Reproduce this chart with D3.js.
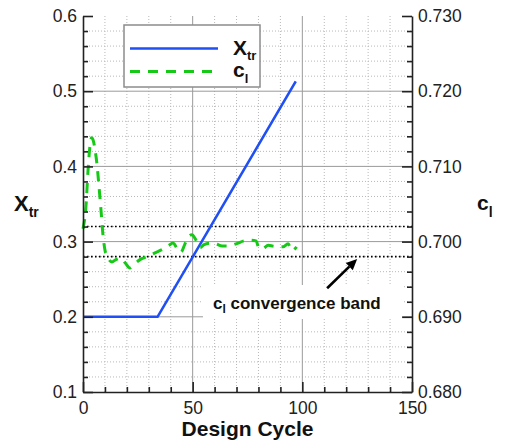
<!DOCTYPE html>
<html>
<head>
<meta charset="utf-8">
<script src="https://cdn.jsdelivr.net/npm/d3@7"></script>
<style>
  html, body { margin: 0; padding: 0; background: #fff; }
  svg { display: block; font-family: "Liberation Sans", Arial, Helvetica, sans-serif; }
</style>
</head>
<body>
<svg id="chart" width="505" height="445"></svg>
<script>
// Transition location history over the design cycles
const xtrCycles = [0, 34, 97];
const xtrValues = [0.2, 0.2, 0.513];

// Lift coefficient history (right axis)
const clCycles = [0, 1.4, 2.3, 3.2, 3.9, 4.6, 5.5, 6.4, 7.3, 8.2, 9.1, 10, 11.4, 13.2, 15, 17.3, 19.2, 21.4,
  23.3, 26, 29.2, 32.8, 36.5, 39.2, 41, 42.9, 44.7, 46.5, 48.3, 49.7, 51.5, 53.4, 55.2, 57.9, 60.6,
  63.4, 66.1, 69.8, 73.4, 76.2, 78.9, 80.3, 82.1, 84.4, 86.6, 88.9, 91.2, 93.5, 95.3, 97.4];
const clValues = [0.7017, 0.7049, 0.7095, 0.7128, 0.7138, 0.7135, 0.7122, 0.7102, 0.7073, 0.7042, 0.7009,
  0.6989, 0.6978, 0.6973, 0.6976, 0.6978, 0.6972, 0.6965, 0.6970, 0.6976, 0.6980, 0.6985, 0.6990,
  0.6995, 0.6998, 0.6991, 0.6986, 0.6997, 0.7007, 0.7009, 0.7002, 0.6992, 0.6996, 0.6998, 0.6997,
  0.6994, 0.6994, 0.6997, 0.7001, 0.7002, 0.7001, 0.6991, 0.6991, 0.6995, 0.6994, 0.6993, 0.6993,
  0.6997, 0.6988, 0.6993];

// Convergence band limits on c_l
const clBand = [0.698, 0.702];

// Axis ticks
const cycleTicks = [0, 50, 100, 150];
const cycleMinorTicks = [10, 20, 30, 40, 60, 70, 80, 90, 110, 120, 130, 140];
const xtrTicks = [0.1, 0.2, 0.3, 0.4, 0.5, 0.6];
const xtrTickLabels = ["0.1", "0.2", "0.3", "0.4", "0.5", "0.6"];
const clTicks = [0.68, 0.69, 0.70, 0.71, 0.72, 0.73];
const clTickLabels = ["0.680", "0.690", "0.700", "0.710", "0.720", "0.730"];

const svg = d3.select("#chart");
const L = 83, R = 412, T = 16, B = 392;

const x = d3.scaleLinear().domain([0, 150]).range([L, R]);
const y = d3.scaleLinear().domain([0.1, 0.6]).range([B, T]);
const yCl = d3.scaleLinear().domain([0.68, 0.73]).range([B, T]);

const xtrMinor = d3.range(0.12, 0.6, 0.02).filter(v => Math.abs(Math.round(v * 10) - v * 10) > 1e-6);
const clMinor = xtrMinor.map(v => 0.68 + (v - 0.1) * 0.1);

// Grid
const grid = svg.append("g");
grid.selectAll(".vminor").data(cycleMinorTicks).join("line")
  .attr("x1", d => x(d)).attr("x2", d => x(d)).attr("y1", T).attr("y2", B)
  .attr("stroke", "#b8b8b8").attr("stroke-width", 1).attr("stroke-dasharray", "1,2");
grid.selectAll(".hminor").data(xtrMinor).join("line")
  .attr("x1", L).attr("x2", R).attr("y1", d => y(d)).attr("y2", d => y(d))
  .attr("stroke", "#b8b8b8").attr("stroke-width", 1).attr("stroke-dasharray", "1,2");
grid.selectAll(".vmajor").data([50, 100]).join("line")
  .attr("x1", d => x(d)).attr("x2", d => x(d)).attr("y1", T).attr("y2", B)
  .attr("stroke", "#9a9a9a").attr("stroke-width", 1);
grid.selectAll(".hmajor").data([0.2, 0.3, 0.4, 0.5]).join("line")
  .attr("x1", L).attr("x2", R).attr("y1", d => y(d)).attr("y2", d => y(d))
  .attr("stroke", "#9a9a9a").attr("stroke-width", 1);

// Convergence band
svg.append("g").selectAll("line").data(clBand).join("line")
  .attr("x1", L).attr("x2", R).attr("y1", d => yCl(d)).attr("y2", d => yCl(d))
  .attr("stroke", "#000").attr("stroke-width", 1.6).attr("stroke-dasharray", "1.6,2.4");

// Series
const xtrLine = d3.line().x(d => x(d[0])).y(d => y(d[1]));
svg.append("path")
  .datum(xtrCycles.map((c, i) => [c, xtrValues[i]]))
  .attr("d", xtrLine).attr("fill", "none")
  .attr("stroke", "#1f4ff5").attr("stroke-width", 2.6);

const clLine = d3.line().x(d => x(d[0])).y(d => yCl(d[1])).curve(d3.curveMonotoneX);
svg.append("path")
  .datum(clCycles.map((c, i) => [c, clValues[i]]))
  .attr("d", clLine).attr("fill", "none")
  .attr("stroke", "#17c917").attr("stroke-width", 3).attr("stroke-dasharray", "10,8");

// Axes
const tickFont = g => g.selectAll("text").attr("font-size", 17.5).attr("fill", "#222")
  .attr("font-family", "'Liberation Sans', Arial, sans-serif");
const axisStyle = g => { g.select(".domain").attr("stroke", "#222").attr("stroke-width", 1.6);
  g.selectAll(".tick line").attr("stroke", "#222").attr("stroke-width", 1.6); };

svg.append("g").attr("transform", `translate(${L},0)`)
  .call(d3.axisLeft(y).tickValues(xtrTicks).tickFormat((d, i) => xtrTickLabels[i])
    .tickSizeInner(-10).tickSizeOuter(0).tickPadding(6))
  .call(axisStyle).call(tickFont);
svg.append("g").attr("transform", `translate(${L},0)`)
  .call(d3.axisLeft(y).tickValues(xtrMinor).tickFormat("").tickSizeInner(-5).tickSizeOuter(0))
  .call(axisStyle).call(g => g.select(".domain").remove());

svg.append("g").attr("transform", `translate(${R},0)`)
  .call(d3.axisRight(yCl).tickValues(clTicks).tickFormat((d, i) => clTickLabels[i])
    .tickSizeInner(-10).tickSizeOuter(0).tickPadding(6))
  .call(axisStyle).call(tickFont);
svg.append("g").attr("transform", `translate(${R},0)`)
  .call(d3.axisRight(yCl).tickValues(clMinor).tickFormat("").tickSizeInner(-5).tickSizeOuter(0))
  .call(axisStyle).call(g => g.select(".domain").remove());

svg.append("g").attr("transform", `translate(0,${B})`)
  .call(d3.axisBottom(x).tickValues(cycleTicks).tickFormat(d3.format("d"))
    .tickSizeInner(-10).tickSizeOuter(0).tickPadding(10))
  .call(axisStyle).call(tickFont);
svg.append("g").attr("transform", `translate(0,${B})`)
  .call(d3.axisBottom(x).tickValues(cycleMinorTicks).tickFormat("").tickSizeInner(-5).tickSizeOuter(0))
  .call(axisStyle).call(g => g.select(".domain").remove());

// Axis titles
svg.append("text").attr("x", (L + R) / 2).attr("y", 436).attr("text-anchor", "middle")
  .attr("font-size", 21).attr("font-weight", "bold").attr("fill", "#111").text("Design Cycle");

const leftTitle = svg.append("text").attr("x", 14).attr("y", 211)
  .attr("font-size", 22).attr("font-weight", "bold").attr("fill", "#111");
leftTitle.append("tspan").text("X");
leftTitle.append("tspan").attr("font-size", 14).attr("dy", 6).text("tr");

const rightTitle = svg.append("text").attr("x", 477).attr("y", 210)
  .attr("font-size", 21).attr("font-weight", "bold").attr("fill", "#111");
rightTitle.append("tspan").text("c");
rightTitle.append("tspan").attr("font-size", 14).attr("dy", 7).text("l");

// Legend
const legend = svg.append("g");
legend.append("rect").attr("x", 124).attr("y", 25).attr("width", 136).attr("height", 62)
  .attr("fill", "#fff").attr("stroke", "#8c8c8c").attr("stroke-width", 1.5);
legend.append("line").attr("x1", 130).attr("x2", 218).attr("y1", 48.5).attr("y2", 48.5)
  .attr("stroke", "#1f4ff5").attr("stroke-width", 2.6);
legend.append("line").attr("x1", 130).attr("x2", 218).attr("y1", 71.5).attr("y2", 71.5)
  .attr("stroke", "#17c917").attr("stroke-width", 3).attr("stroke-dasharray", "10,8");
const lt1 = legend.append("text").attr("x", 233).attr("y", 55)
  .attr("font-size", 21).attr("font-weight", "bold").attr("fill", "#111");
lt1.append("tspan").text("X");
lt1.append("tspan").attr("font-size", 13).attr("dy", 5).text("tr");
const lt2 = legend.append("text").attr("x", 233).attr("y", 77)
  .attr("font-size", 21).attr("font-weight", "bold").attr("fill", "#111");
lt2.append("tspan").text("c");
lt2.append("tspan").attr("font-size", 13).attr("dy", 6).text("l");

// Convergence band annotation
const note = svg.append("g");
note.append("rect").attr("x", x(54.7)).attr("y", y(0.2423))
  .attr("width", x(145.5) - x(54.7)).attr("height", y(0.197) - y(0.2423)).attr("fill", "#fff");
const nt = note.append("text").attr("x", 213).attr("y", 309)
  .attr("font-size", 17).attr("font-weight", "bold").attr("fill", "#111");
nt.append("tspan").text("c");
nt.append("tspan").attr("font-size", 12).attr("dy", 4).text("l");
nt.append("tspan").attr("dy", -4).text(" convergence band");

const ax0 = x(111.3), ay0 = y(0.238), ax1 = x(125), ay1 = yCl(0.6977);
const ang = Math.atan2(ay1 - ay0, ax1 - ax0);
const hl = 11, hw = 5;
const bx = ax1 - hl * Math.cos(ang), by = ay1 - hl * Math.sin(ang);
note.append("line").attr("x1", ax0).attr("y1", ay0).attr("x2", bx).attr("y2", by)
  .attr("stroke", "#000").attr("stroke-width", 2.6);
note.append("path")
  .attr("d", `M${ax1},${ay1}L${bx - hw * Math.sin(ang)},${by + hw * Math.cos(ang)}L${bx + hw * Math.sin(ang)},${by - hw * Math.cos(ang)}Z`)
  .attr("fill", "#000");
</script>
</body>
</html>
